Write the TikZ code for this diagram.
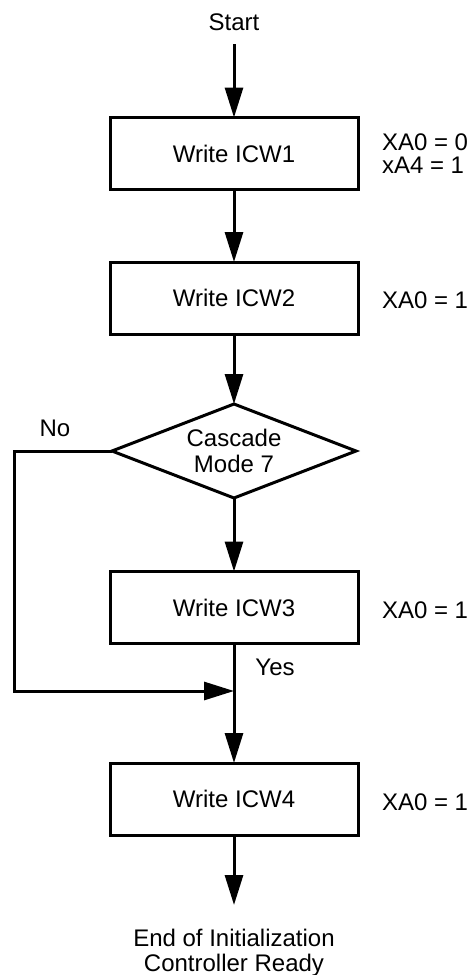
\documentclass[tikz,border=0pt]{standalone}
\usepackage{fontspec}
\setmainfont{Liberation Sans}
\usetikzlibrary{arrows.meta,shapes.geometric}
\begin{document}
\begin{tikzpicture}[x=1pt,y=-1pt,
  every node/.style={font=\fontsize{24}{25}\selectfont, inner sep=0pt, outer sep=0pt},
  stepbox/.style={draw, line width=3pt, minimum width=248pt, minimum height=72pt},
  decision/.style={draw, diamond, line width=3pt, minimum width=244pt, minimum height=94pt, aspect=2.6, align=center, font=\fontsize{24}{26}\selectfont},
  arr/.style={line width=3pt, -{Triangle[length=30pt,width=18pt]}},
  note/.style={anchor=west, align=left, font=\fontsize{24}{23}\selectfont}]
\useasboundingbox (0,0) rectangle (472,975);

\node (start) at (234,22) {Start};
\node[stepbox] (b1) at (234,153.5) {Write ICW1};
\node[stepbox] (b2) at (234,298) {Write ICW2};
\node[decision] (dia) at (234,451) {Cascade\\Mode 7};
\node[stepbox] (b3) at (234,607.5) {Write ICW3};
\node[stepbox] (b4) at (234,799) {Write ICW4};
\node[anchor=north, align=center] (end) at (234,929) {End of Initialization\\Controller Ready};

\node[note] (n1) at (382,153.5) {XA0 = 0\\xA4 = 1};
\node[note] (n2) at (382,300) {XA0 = 1};
\node[note] (n3) at (382,610) {XA0 = 1};
\node[note] (n4) at (382,802) {XA0 = 1};

\node (no) at (55,428) {No};
\node (yes) at (275,667) {Yes};
\coordinate (merge) at (234,691);

\draw[arr, shorten <=14pt] (start) -- (b1);
\draw[arr] (b1) -- (b2);
\draw[arr] (b2) -- (dia);
\draw[arr] (dia) -- (b3);
\draw[arr] (b3) -- (b4);
\draw[arr] (dia.west) -- ++(-98,0) |- (merge);
\draw[arr, shorten >=24pt] (b4) -- (end);
\end{tikzpicture}
\end{document}
